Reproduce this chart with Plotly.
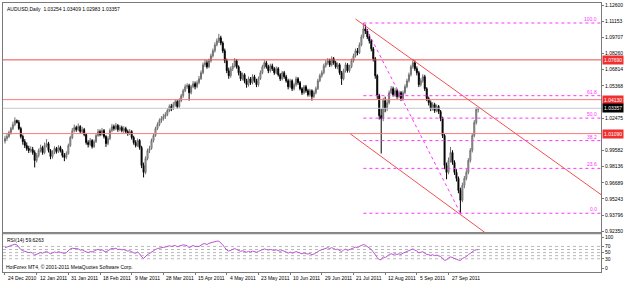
import plotly.graph_objects as go

# ---------------- data ----------------
closes = [
1.0065, 1.0083, 1.0119, 1.0154, 1.0190, 1.0226, 1.0208, 1.0154, 1.0083, 1.0038,
1.0002, 0.9976, 0.9958, 0.9967, 0.9940, 0.9869, 0.9913, 0.9958, 0.9984, 0.9940,
1.0002, 1.0020, 0.9958, 0.9904, 0.9940, 0.9976, 0.9949, 0.9984, 0.9958, 0.9913,
0.9896, 0.9931, 1.0002, 1.0074, 1.0136, 1.0163, 1.0145, 1.0172, 1.0127, 1.0145,
1.0101, 1.0029, 1.0011, 1.0047, 0.9993, 1.0038, 1.0092, 1.0127, 1.0101, 1.0136,
1.0083, 1.0020, 1.0065, 1.0136, 1.0172, 1.0154, 1.0181, 1.0145, 1.0163, 1.0136,
1.0154, 1.0127, 1.0110, 1.0127, 1.0074, 1.0029, 1.0002, 1.0047, 0.9984, 0.9824,
0.9762, 0.9887, 0.9958, 0.9976, 1.0047, 1.0092, 1.0154, 1.0190, 1.0226, 1.0243,
1.0261, 1.0279, 1.0315, 1.0351, 1.0333, 1.0368, 1.0395, 1.0351, 1.0404, 1.0448,
1.0493, 1.0529, 1.0538, 1.0475, 1.0529, 1.0556, 1.0529, 1.0565, 1.0600, 1.0654,
1.0725, 1.0743, 1.0707, 1.0761, 1.0805, 1.0850, 1.0903, 1.0939, 1.0966, 1.0921,
1.0850, 1.0761, 1.0672, 1.0627, 1.0690, 1.0716, 1.0761, 1.0707, 1.0654, 1.0600,
1.0636, 1.0582, 1.0547, 1.0600, 1.0565, 1.0618, 1.0582, 1.0547, 1.0600, 1.0654,
1.0707, 1.0743, 1.0707, 1.0672, 1.0716, 1.0690, 1.0654, 1.0690, 1.0636, 1.0600,
1.0654, 1.0618, 1.0582, 1.0529, 1.0582, 1.0511, 1.0547, 1.0600, 1.0565, 1.0511,
1.0475, 1.0529, 1.0493, 1.0457, 1.0493, 1.0440, 1.0475, 1.0511, 1.0582, 1.0627,
1.0654, 1.0716, 1.0743, 1.0761, 1.0725, 1.0779, 1.0743, 1.0707, 1.0725, 1.0654,
1.0600, 1.0672, 1.0725, 1.0672, 1.0707, 1.0761, 1.0805, 1.0850, 1.0832, 1.0903,
1.0975, 1.1046, 1.1028, 1.0975, 1.0939, 1.0868, 1.0779, 1.0627, 1.0448, 1.0270,
1.0243, 1.0404, 1.0333, 1.0386, 1.0475, 1.0511, 1.0457, 1.0493, 1.0440, 1.0475,
1.0422, 1.0475, 1.0529, 1.0582, 1.0636, 1.0707, 1.0743, 1.0690, 1.0654, 1.0547,
1.0582, 1.0618, 1.0511, 1.0422, 1.0386, 1.0333, 1.0368, 1.0315, 1.0351, 1.0306,
1.0243, 1.0092, 0.9824, 0.9762, 0.9869, 0.9940, 0.9851, 0.9762, 0.9708, 0.9601,
0.9512, 0.9646, 0.9708, 0.9762, 0.9869, 0.9958, 1.0092, 1.0208, 1.03254, 1.03357,
]

highs = [
1.0090, 1.0110, 1.0135, 1.0170, 1.0215, 1.0255, 1.0235, 1.0230, 1.0170, 1.0100,
1.0060, 1.0030, 1.0000, 0.9995, 0.9990, 0.9960, 0.9935, 0.9975, 1.0010, 1.0000,
1.0030, 1.0060, 1.0035, 0.9970, 0.9960, 0.9995, 0.9990, 1.0005, 1.0000, 0.9970,
0.9935, 0.9950, 1.0020, 1.0090, 1.0160, 1.0190, 1.0180, 1.0200, 1.0185, 1.0170,
1.0160, 1.0115, 1.0050, 1.0070, 1.0060, 1.0055, 1.0110, 1.0150, 1.0145, 1.0160,
1.0150, 1.0095, 1.0085, 1.0155, 1.0195, 1.0190, 1.0205, 1.0195, 1.0185, 1.0180,
1.0175, 1.0170, 1.0145, 1.0150, 1.0140, 1.0090, 1.0050, 1.0065, 1.0060, 1.0000,
0.9850, 0.9905, 0.9975, 1.0000, 1.0065, 1.0110, 1.0170, 1.0210, 1.0245, 1.0265,
1.0285, 1.0300, 1.0335, 1.0370, 1.0375, 1.0390, 1.0415, 1.0410, 1.0425, 1.0465,
1.0510, 1.0550, 1.0560, 1.0555, 1.0545, 1.0580, 1.0575, 1.0585, 1.0625, 1.0675,
1.0745, 1.0770, 1.0765, 1.0780, 1.0825, 1.0870, 1.0925, 1.0960, 1.1002, 1.0985,
1.0935, 1.0870, 1.0780, 1.0700, 1.0710, 1.0740, 1.0785, 1.0775, 1.0720, 1.0670,
1.0655, 1.0650, 1.0600, 1.0620, 1.0615, 1.0640, 1.0635, 1.0600, 1.0620, 1.0675,
1.0725, 1.0765, 1.0760, 1.0725, 1.0735, 1.0735, 1.0705, 1.0710, 1.0705, 1.0650,
1.0670, 1.0670, 1.0635, 1.0600, 1.0600, 1.0595, 1.0565, 1.0620, 1.0615, 1.0580,
1.0525, 1.0545, 1.0545, 1.0510, 1.0510, 1.0505, 1.0495, 1.0530, 1.0600, 1.0645,
1.0675, 1.0735, 1.0765, 1.0785, 1.0780, 1.0800, 1.0795, 1.0760, 1.0745, 1.0740,
1.0670, 1.0690, 1.0745, 1.0740, 1.0725, 1.0780, 1.0825, 1.0870, 1.0875, 1.0925,
1.0995, 1.1099, 1.1085, 1.1045, 1.1000, 1.0955, 1.0885, 1.0795, 1.0640, 1.0465,
1.0330, 1.0430, 1.0440, 1.0410, 1.0495, 1.0535, 1.0530, 1.0515, 1.0510, 1.0495,
1.0490, 1.0495, 1.0550, 1.0600, 1.0655, 1.0725, 1.0779, 1.0765, 1.0710, 1.0670,
1.0605, 1.0640, 1.0635, 1.0525, 1.0440, 1.0405, 1.0390, 1.0385, 1.0370, 1.0365,
1.0320, 1.0260, 1.0105, 0.9850, 0.9895, 0.9990, 0.9960, 0.9870, 0.9790, 0.9725,
0.9625, 0.9670, 0.9730, 0.9790, 0.9890, 0.9980, 1.0110, 1.0230, 1.0345, 1.03409,
]

lows = [
1.0020, 1.0045, 1.0070, 1.0100, 1.0140, 1.0175, 1.0200, 1.0140, 1.0065, 1.0010,
0.9980, 0.9955, 0.9935, 0.9940, 0.9920, 0.9806, 0.9850, 0.9895, 0.9940, 0.9920,
0.9925, 0.9985, 0.9940, 0.9880, 0.9885, 0.9925, 0.9930, 0.9935, 0.9940, 0.9895,
0.9862, 0.9880, 0.9920, 0.9990, 1.0060, 1.0120, 1.0125, 1.0130, 1.0110, 1.0105,
1.0085, 1.0010, 0.9985, 0.9995, 0.9975, 0.9980, 1.0025, 1.0080, 1.0085, 1.0090,
1.0065, 0.9990, 1.0005, 1.0050, 1.0120, 1.0135, 1.0140, 1.0125, 1.0130, 1.0120,
1.0115, 1.0110, 1.0090, 1.0095, 1.0055, 1.0010, 0.9985, 0.9990, 0.9965, 0.9800,
0.9717, 0.9745, 0.9870, 0.9935, 0.9965, 1.0030, 1.0080, 1.0140, 1.0175, 1.0205,
1.0225, 1.0240, 1.0265, 1.0300, 1.0310, 1.0320, 1.0350, 1.0330, 1.0340, 1.0390,
1.0430, 1.0480, 1.0510, 1.0404, 1.0460, 1.0515, 1.0505, 1.0515, 1.0550, 1.0590,
1.0640, 1.0705, 1.0690, 1.0695, 1.0745, 1.0790, 1.0835, 1.0890, 1.0920, 1.0900,
1.0830, 1.0740, 1.0650, 1.0600, 1.0610, 1.0670, 1.0700, 1.0690, 1.0630, 1.0580,
1.0585, 1.0560, 1.0520, 1.0530, 1.0545, 1.0550, 1.0565, 1.0525, 1.0530, 1.0590,
1.0640, 1.0690, 1.0690, 1.0650, 1.0655, 1.0670, 1.0635, 1.0640, 1.0620, 1.0580,
1.0585, 1.0600, 1.0565, 1.0505, 1.0515, 1.0490, 1.0495, 1.0530, 1.0545, 1.0495,
1.0455, 1.0460, 1.0475, 1.0440, 1.0440, 1.0404, 1.0425, 1.0460, 1.0500, 1.0570,
1.0610, 1.0640, 1.0700, 1.0725, 1.0705, 1.0710, 1.0725, 1.0690, 1.0685, 1.0635,
1.0545, 1.0585, 1.0655, 1.0655, 1.0655, 1.0695, 1.0745, 1.0790, 1.0810, 1.0820,
1.0890, 1.0960, 1.1000, 1.0955, 1.0915, 1.0845, 1.0755, 1.0600, 1.0420, 1.0235,
0.9931, 1.0220, 1.0300, 1.0310, 1.0370, 1.0460, 1.0440, 1.0440, 1.0420, 1.0425,
1.0400, 1.0405, 1.0460, 1.0515, 1.0565, 1.0620, 1.0690, 1.0670, 1.0630, 1.0525,
1.0530, 1.0565, 1.0490, 1.0400, 1.0360, 1.0310, 1.0315, 1.0295, 1.0300, 1.0285,
1.0220, 1.0070, 0.9790, 0.9700, 0.9745, 0.9850, 0.9830, 0.9740, 0.9680, 0.9575,
0.9396, 0.9495, 0.9620, 0.9690, 0.9745, 0.9850, 0.9940, 1.0075, 1.0190, 1.02983,
]

rsi_values = [
66, 67, 70, 73, 75, 77, 75, 66, 60, 56,
54, 52, 50, 51, 48, 42, 45, 48, 50, 48,
52, 54, 50, 46, 49, 52, 50, 53, 51, 48,
47, 50, 56, 62, 64, 63, 61, 62, 58, 59,
55, 52, 50, 53, 52, 55, 59, 61, 57, 59,
55, 52, 56, 60, 64, 62, 64, 60, 61, 59,
60, 57, 55, 56, 52, 49, 48, 52, 46, 36,
31, 39, 44, 47, 52, 56, 60, 63, 65, 66,
67, 68, 70, 72, 70, 72, 73, 69, 71, 73,
75, 74, 72, 66, 70, 73, 70, 71, 70, 74,
78, 79, 76, 80, 82, 84, 86, 87, 87, 82,
75, 66, 58, 55, 58, 60, 63, 60, 57, 54,
56, 53, 51, 54, 52, 55, 53, 51, 54, 57,
60, 62, 60, 58, 60, 59, 57, 59, 56, 54,
57, 55, 52, 48, 52, 48, 50, 53, 51, 48,
46, 49, 47, 45, 47, 43, 45, 48, 53, 57,
59, 63, 65, 66, 63, 66, 63, 60, 61, 57,
53, 58, 61, 57, 59, 62, 65, 68, 66, 70,
73, 76, 74, 70, 66, 60, 52, 42, 34, 27,
27, 36, 34, 38, 44, 46, 44, 46, 44, 46,
44, 48, 51, 55, 58, 61, 62, 58, 55, 49,
51, 53, 48, 44, 43, 41, 43, 40, 42, 40,
37, 31, 25, 26, 33, 36, 33, 30, 29, 26,
24, 31, 34, 37, 43, 48, 53, 57, 59, 59.6263,
]

first_open = 1.0040
opens = [first_open] + closes[:-1]
bars = list(range(len(closes)))

date_pos = [0, 16, 32, 48, 64, 80, 96, 112, 128, 144, 160, 176, 192, 208, 224]
date_labels = ["24 Dec 2010", "12 Jan 2011", "31 Jan 2011", "18 Feb 2011", "9 Mar 2011",
               "28 Mar 2011", "15 Apr 2011", "4 May 2011", "23 May 2011", "10 Jun 2011",
               "29 Jun 2011", "21 Jul 2011", "12 Aug 2011", "5 Sep 2011", "27 Sep 2011"]

# price scale labels (those hidden under the line labels in the reference are left out)
price_tickvals = [0.92350, 0.93796, 0.95243, 0.96689, 0.98136, 0.99582, 1.02475,
                  1.05368, 1.06814, 1.08260, 1.09707, 1.11153, 1.12600]
price_ticktext = ["0.92350", "0.93796", "0.95243", "0.96689", "0.98136", "0.99582",
                  "1.02475", "1.05368", "1.06814", "1.08260", "1.09707", "1.11153", "1.12600"]

hline_values = [1.0769, 1.0413, 1.0109]
hline_texts = ["1.07690", "1.04130", "1.01090"]
hline_colors = ["#f04848", "#ff7878", "#ff7878"]
last_price = 1.03357
last_text = "1.03357"

fib_high_bar, fib_high = 181, 1.1099
fib_low_bar, fib_low = 230, 0.9396
fib_levels = [100.0, 61.8, 50.0, 38.2, 23.6, 0.0]
fib_texts = ["100.0", "61.8", "50.0", "38.2", "23.6", "0.0"]

channel_upper_x = [177, 301]
channel_upper_y = [1.1135, 0.9563]
channel_lower_x = [174.35, 250]
channel_lower_y = [1.0107, 0.9125]

rsi_levels = [70, 60, 50, 40, 30]
rsi_tickvals = [100, 70, 50, 30, 0]
rsi_ticktext = ["100", "70", "50", "30", "0"]

# ---------------- figure ----------------
X0, X1 = -1, 301
FONT = "Liberation Sans"
FS = 5

fig = go.Figure()

fig.add_trace(go.Candlestick(
    x=bars, open=opens, high=highs, low=lows, close=closes,
    increasing=dict(line=dict(color="#707070", width=1), fillcolor="#c8c8c8"),
    decreasing=dict(line=dict(color="#000000", width=1), fillcolor="#000000"),
    whiskerwidth=0, xaxis="x", yaxis="y", showlegend=False, hoverinfo="skip"))

# current price line
fig.add_trace(go.Scatter(x=[X0, X1], y=[last_price, last_price], mode="lines",
                         line=dict(color="#c8c8c8", width=1), xaxis="x", yaxis="y",
                         showlegend=False, hoverinfo="skip"))

# horizontal lines
for v, c in zip(hline_values, hline_colors):
    fig.add_trace(go.Scatter(x=[X0, X1], y=[v, v], mode="lines",
                             line=dict(color=c, width=1), xaxis="x", yaxis="y",
                             showlegend=False, hoverinfo="skip"))

# channel
fig.add_trace(go.Scatter(x=channel_upper_x, y=channel_upper_y, mode="lines",
                         line=dict(color="#f05050", width=1), xaxis="x", yaxis="y",
                         showlegend=False, hoverinfo="skip"))
fig.add_trace(go.Scatter(x=channel_lower_x, y=channel_lower_y, mode="lines",
                         line=dict(color="#f05050", width=1), xaxis="x", yaxis="y",
                         showlegend=False, hoverinfo="skip"))

# fibonacci
fib_color = "#ff33ff"
fig.add_trace(go.Scatter(x=[fib_high_bar, fib_low_bar], y=[fib_high, fib_low], mode="lines",
                         line=dict(color=fib_color, width=1, dash="dot"), xaxis="x", yaxis="y",
                         showlegend=False, hoverinfo="skip"))
fib_prices = [fib_low + (fib_high - fib_low) * lv / 100.0 for lv in fib_levels]
for p in fib_prices:
    fig.add_trace(go.Scatter(x=[fib_high_bar, X1], y=[p, p], mode="lines",
                             line=dict(color=fib_color, width=1, dash="dot"), xaxis="x", yaxis="y",
                             showlegend=False, hoverinfo="skip"))

# RSI levels and line
for lv in rsi_levels:
    fig.add_trace(go.Scatter(x=[X0, X1], y=[lv, lv], mode="lines",
                             line=dict(color="#b8b8b8", width=1, dash="dot"), xaxis="x2", yaxis="y2",
                             showlegend=False, hoverinfo="skip"))
fig.add_trace(go.Scatter(x=bars, y=rsi_values, mode="lines",
                         line=dict(color="#BA55D3", width=1), xaxis="x2", yaxis="y2",
                         showlegend=False, hoverinfo="skip"))

annotations = []
annotations.append(dict(xref="paper", yref="paper", x=0, y=1, xanchor="left", yanchor="top",
                        xshift=2, yshift=-1, showarrow=False,
                        text="AUDUSD,Daily  1.03254 1.03409 1.02983 1.03357",
                        font=dict(family=FONT, size=FS, color="#000000")))
annotations.append(dict(xref="paper", yref="y2", x=0, y=109.7, xanchor="left", yanchor="top",
                        xshift=2, yshift=-1, showarrow=False, text="RSI(14) 59.6263",
                        font=dict(family=FONT, size=FS, color="#000000")))
annotations.append(dict(xref="paper", yref="paper", x=0, y=0, xanchor="left", yanchor="bottom",
                        xshift=1, yshift=0, showarrow=False,
                        text="HotForex MT4, © 2001-2011 MetaQuotes Software Corp.",
                        font=dict(family=FONT, size=FS, color="#000000")))
for p, t in zip(fib_prices, fib_texts):
    annotations.append(dict(xref="x", yref="y", x=300, y=p, xanchor="right", yanchor="bottom",
                            yshift=-1, showarrow=False, text=t,
                            font=dict(family=FONT, size=FS, color=fib_color)))
for v, t in zip(hline_values, hline_texts):
    annotations.append(dict(xref="paper", yref="y", x=1, y=v, xanchor="left", yanchor="middle",
                            xshift=1, showarrow=False, text=t, bgcolor="#f03030", borderpad=1,
                            font=dict(family=FONT, size=FS, color="#ffffff")))
annotations.append(dict(xref="paper", yref="y", x=1, y=last_price, xanchor="left", yanchor="middle",
                        xshift=1, showarrow=False, text=last_text, bgcolor="#000000", borderpad=1,
                        font=dict(family=FONT, size=FS, color="#ffffff")))
for pos, lab in zip(date_pos, date_labels):
    annotations.append(dict(xref="x2", yref="paper", x=pos, y=0, xanchor="left", yanchor="top",
                            xshift=1, yshift=-1, showarrow=False, text=lab,
                            font=dict(family=FONT, size=FS, color="#000000")))

axis_line = "#7a7a7a"
fig.update_layout(
    width=625, height=283,
    margin=dict(l=2, r=19, t=2, b=11),
    paper_bgcolor="#ffffff", plot_bgcolor="#ffffff",
    showlegend=False,
    annotations=annotations,
    xaxis=dict(domain=[0, 1], range=[X0, X1], anchor="y", showticklabels=False, ticks="",
               showgrid=False, zeroline=False, showline=True, mirror=True,
               linecolor=axis_line, linewidth=1, rangeslider=dict(visible=False), fixedrange=True),
    xaxis2=dict(domain=[0, 1], range=[X0, X1], anchor="y2", showticklabels=False,
                ticks="outside", tickvals=date_pos, ticklen=2, tickcolor=axis_line,
                showgrid=False, zeroline=False, showline=True, mirror=True,
                linecolor=axis_line, linewidth=1, fixedrange=True),
    yaxis=dict(domain=[0.148, 1], range=[0.92266, 1.1278], anchor="x", side="right",
               tickvals=price_tickvals, ticktext=price_ticktext, ticks="outside", ticklen=2,
               tickcolor=axis_line, tickfont=dict(family=FONT, size=FS, color="#000000"),
               showgrid=False, zeroline=False, showline=True, mirror=True,
               linecolor=axis_line, linewidth=1, fixedrange=True),
    yaxis2=dict(domain=[0, 0.1407], range=[-12.9, 109.7], anchor="x2", side="right",
                tickvals=rsi_tickvals, ticktext=rsi_ticktext, ticks="outside", ticklen=2,
                tickcolor=axis_line, tickfont=dict(family=FONT, size=FS, color="#000000"),
                showgrid=False, zeroline=False, showline=True, mirror=True,
                linecolor=axis_line, linewidth=1, fixedrange=True),
    shapes=[dict(type="line", xref="paper", yref="paper", x0=0, x1=1, y0=0.1445, y1=0.1445,
                 line=dict(color="#8a8a8a", width=2))],
)

fig.write_html("out.html")
